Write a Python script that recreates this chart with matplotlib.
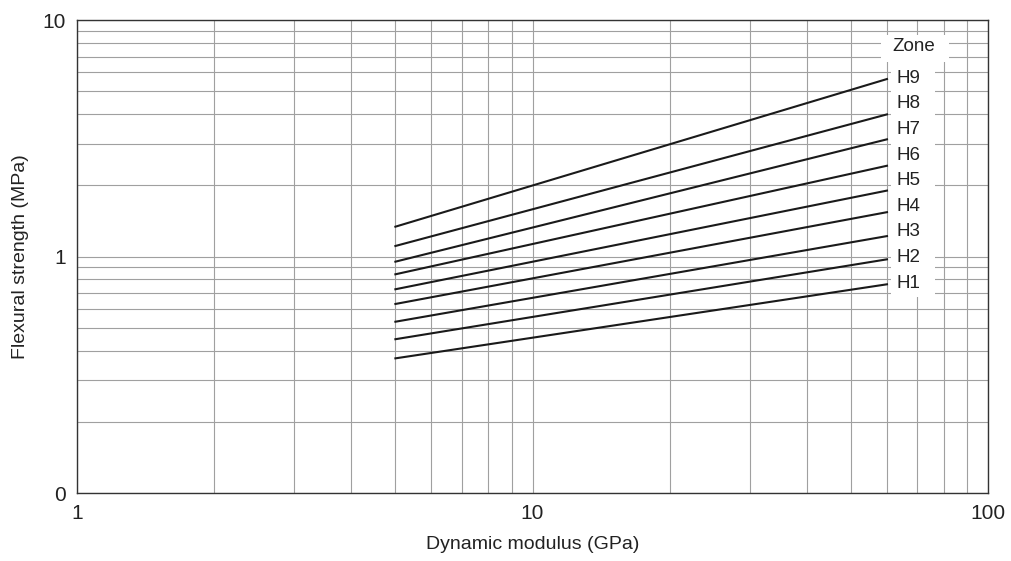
import matplotlib.pyplot as plt
from matplotlib.patches import Rectangle
from matplotlib.ticker import FixedLocator, FixedFormatter, NullFormatter

plt.rcParams['font.family'] = ['Liberation Sans', 'DejaVu Sans']

zones = ['H1', 'H2', 'H3', 'H4', 'H5', 'H6', 'H7', 'H8', 'H9']
modulus = [5, 60]
strength_at_5 = [0.371, 0.447, 0.530, 0.630, 0.727, 0.841, 0.951, 1.108, 1.337]
strength_at_60 = [0.763, 0.973, 1.22, 1.54, 1.90, 2.42, 3.13, 3.99, 5.63]

x_ticks = [1, 10, 100]
x_ticklabels = ['1', '10', '100']
y_ticks = [0.1, 1, 10]
y_ticklabels = ['0', '1', '10']

fig = plt.figure(figsize=(10.12, 5.61), dpi=100)
ax = fig.add_axes([0.0761, 0.1212, 0.9002, 0.8431])
ax.set_xscale('log')
ax.set_yscale('log')
ax.set_xlim(1, 100)
ax.set_ylim(0.1, 10)

ax.xaxis.set_major_locator(FixedLocator(x_ticks))
ax.xaxis.set_major_formatter(FixedFormatter(x_ticklabels))
ax.yaxis.set_major_locator(FixedLocator(y_ticks))
ax.yaxis.set_major_formatter(FixedFormatter(y_ticklabels))
ax.xaxis.set_minor_formatter(NullFormatter())
ax.yaxis.set_minor_formatter(NullFormatter())
ax.tick_params(which='both', length=0, labelsize=15, pad=8, colors='#222222')
ax.grid(which='both', color='#a0a0a0', linewidth=0.8)
for sp in ax.spines.values():
    sp.set_color('#333333')
    sp.set_linewidth(1.0)

# white strip behind the zone key so grid lines stop at it
ax.add_patch(Rectangle((0.893, 0.414), 0.049, 0.497, transform=ax.transAxes,
                       facecolor='white', edgecolor='none', zorder=2.5))
ax.add_patch(Rectangle((0.882, 0.911), 0.075, 0.057, transform=ax.transAxes,
                       facecolor='white', edgecolor='none', zorder=2.5))

for i, (name, y0, y1) in enumerate(zip(zones, strength_at_5, strength_at_60)):
    ax.plot(modulus, [y0, y1], color='#1a1a1a', linewidth=1.5, zorder=3)
    ax.text(0.9125, 0.444 + 0.0541 * i, name, transform=ax.transAxes,
            ha='center', va='center', fontsize=13.5, color='#222222', zorder=4)

ax.text(0.918, 0.944, 'Zone', transform=ax.transAxes, ha='center', va='center',
        fontsize=13.5, color='#222222', zorder=4)

ax.set_xlabel('Dynamic modulus (GPa)', fontsize=14, color='#222222', labelpad=9)
ax.set_ylabel('Flexural strength (MPa)', fontsize=14, color='#222222', labelpad=10)

fig.savefig('out.png', dpi=100)
